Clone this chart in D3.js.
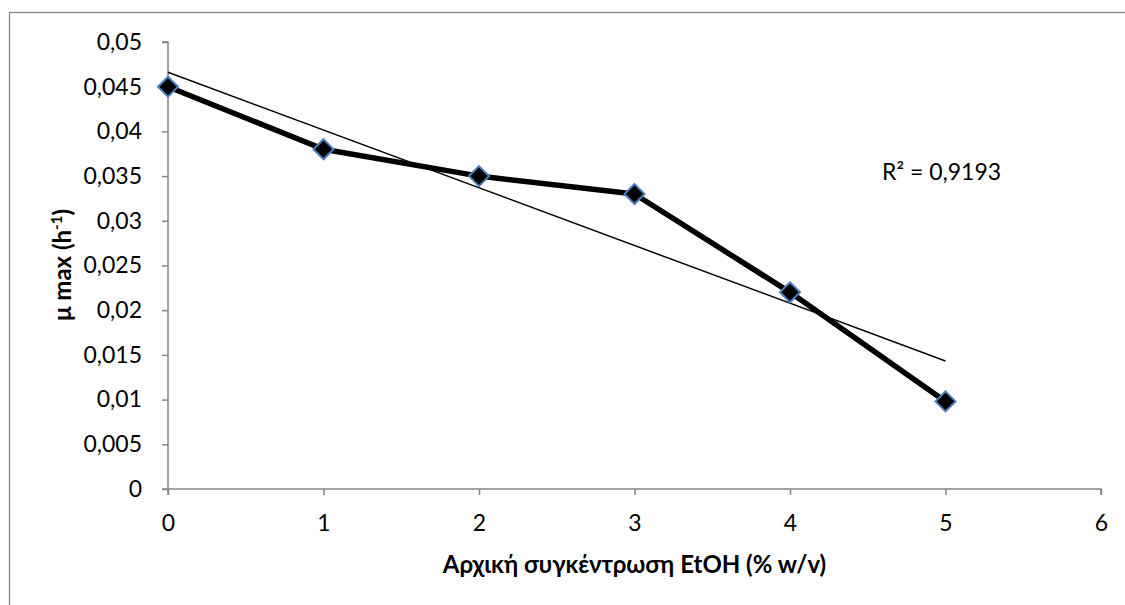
<!DOCTYPE html>
<html><head><meta charset="utf-8">
<script src="https://cdn.jsdelivr.net/npm/d3@7"></script>
<style>body{margin:0;background:#fff}svg{display:block}</style>
</head><body>
<svg id="c" width="1125" height="605"></svg>
<script>
const xValues = [0, 1, 2, 3, 4, 5];
const muMax = [0.045, 0.038, 0.035, 0.033, 0.022, 0.0098];
const xTicks = [0, 1, 2, 3, 4, 5, 6];
const yTicks = [0, 0.005, 0.01, 0.015, 0.02, 0.025, 0.03, 0.035, 0.04, 0.045, 0.05];
const r2Label = "R² = 0,9193";
const xTitle = "Αρχική συγκέντρωση EtOH (% w/v)";

const svg = d3.select("#c");
const FONT = "Lato, 'Open Sans', sans-serif";
const axisColor = "#868686";

svg.append("rect").attr("x", 9.5).attr("y", 12.5).attr("width", 1300).attr("height", 800)
  .attr("fill", "none").attr("stroke", axisColor).attr("stroke-width", 1.3);

const x = d3.scaleLinear().domain([0, 6]).range([168, 1101]);
const y = d3.scaleLinear().domain([0, 0.05]).range([489, 42]);
const fmt = d => d3.format("")(d).replace(".", ",");

const gx = svg.append("g").attr("transform", `translate(0,${y(0)})`)
  .call(d3.axisBottom(x).tickValues(xTicks).tickSize(6).tickPadding(20).tickFormat(d => d));
const gy = svg.append("g").attr("transform", `translate(${x(0)},0)`)
  .call(d3.axisLeft(y).tickValues(yTicks).tickSize(6).tickPadding(20).tickFormat(fmt));
[gx, gy].forEach(g => {
  g.select(".domain").attr("stroke", axisColor).attr("stroke-width", 1.5);
  g.selectAll(".tick line").attr("stroke", axisColor).attr("stroke-width", 1.5);
  g.selectAll(".tick text").attr("fill", "#000").style("font-family", FONT).style("font-size", "23px");
});
gy.select(".domain").attr("d", `M-6,${y(0.05)}H0V${y(0)}H-6`);
gx.select(".domain").attr("d", `M${x(0)},6V0H${x(6)}V6`);

// linear trendline via least squares
const mx = d3.mean(xValues), my = d3.mean(muMax);
const slope = d3.sum(xValues.map((v, i) => (v - mx) * (muMax[i] - my))) / d3.sum(xValues.map(v => (v - mx) ** 2));
const intercept = my - slope * mx;
svg.append("line")
  .attr("x1", x(0)).attr("y1", y(intercept))
  .attr("x2", x(5)).attr("y2", y(intercept + slope * 5))
  .attr("stroke", "#000").attr("stroke-width", 1.5);

const pts = xValues.map((v, i) => [v, muMax[i]]);
svg.append("path").datum(pts)
  .attr("d", d3.line().x(d => x(d[0])).y(d => y(d[1])))
  .attr("fill", "none").attr("stroke", "#000").attr("stroke-width", 5.5).attr("stroke-linejoin", "round");

svg.selectAll(".m").data(pts).join("path")
  .attr("transform", d => `translate(${x(d[0])},${y(d[1])})`)
  .attr("d", "M0,-10L10,0L0,10L-10,0Z")
  .attr("fill", "#000").attr("stroke", "#4a7ebb").attr("stroke-width", 2);

svg.append("text").attr("x", 882).attr("y", 180).text(r2Label)
  .style("font-family", FONT).style("font-size", "23px");

svg.append("text").attr("x", 634.5).attr("y", 573).attr("text-anchor", "middle")
  .style("font-family", FONT).style("font-size", "24px").style("font-weight", "bold").text(xTitle);

const yt = svg.append("text").attr("transform", "translate(71,265) rotate(-90)").attr("text-anchor", "middle")
  .style("font-family", FONT).style("font-size", "24px").style("font-weight", "bold");
yt.append("tspan").text("μ max (h");
yt.append("tspan").text("-1").attr("font-size", "15px").attr("dy", -9);
yt.append("tspan").text(")").attr("dy", 9);
</script>
</body></html>
